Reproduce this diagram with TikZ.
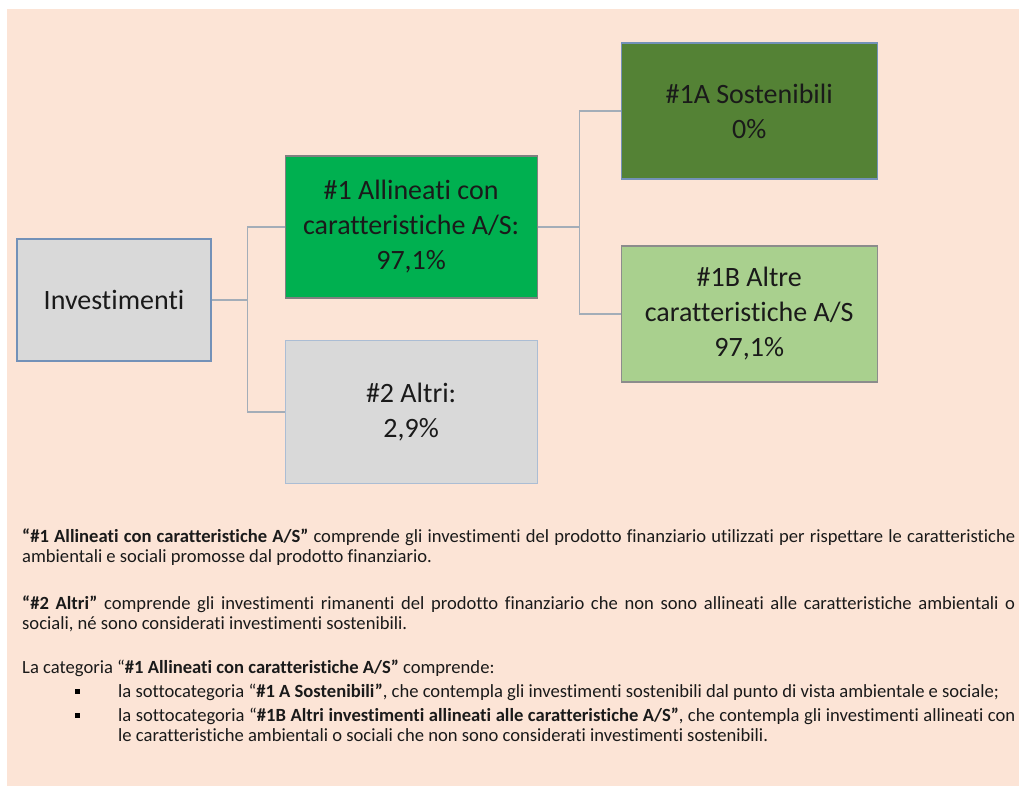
\documentclass[tikz,border=0pt]{standalone}
\usepackage{fontspec}
\setmainfont{Carlito}[Ligatures=NoCommon]
\usepackage{xcolor}
\usetikzlibrary{positioning}
\definecolor{bgpink}{HTML}{FCE4D6}
\definecolor{boxgrey}{HTML}{D9D9D9}
\definecolor{midgreen}{HTML}{00B050}
\definecolor{darkgreen}{HTML}{548235}
\definecolor{lightgreen}{HTML}{A9D08E}
\definecolor{edgeblue}{HTML}{7391B8}
\definecolor{linkgrey}{HTML}{A3ADB8}
\definecolor{textdark}{HTML}{1A1A1A}
\tikzset{
x=1pt, y=-1pt, % pixel units, y grows downwards
catbox/.style={draw=edgeblue, line width=1.1pt, inner sep=0pt, align=center,
  font=\fontsize{28}{35}\selectfont, text=textdark},
link/.style={draw=linkgrey, line width=1.3pt},
para/.style={anchor=base west, inner sep=0pt, align=justify,
  font=\fontsize{18.6}{20}\selectfont, text=textdark},
bullet/.style={fill=black, minimum size=5pt, inner sep=0pt},
}

\begin{document}
\begin{tikzpicture}
  \useasboundingbox (0,0) rectangle (1019,794);
  \fill[bgpink] (7,9) rectangle (1019,786);

  % tree of categories
  \node[catbox, fill=boxgrey, minimum width=194pt, minimum height=122pt] (inv) at (114,300) {Investimenti};
  \node[catbox, fill=midgreen, draw=gray, minimum width=252pt, minimum height=142pt,
    right=73pt of inv.east, yshift=73pt] (alli) {\#1 Allineati con\\caratteristiche A/S:\\97,1\%};
  \node[catbox, fill=boxgrey, draw=edgeblue!60, minimum width=252pt, minimum height=143pt,
    right=73pt of inv.east, yshift=-112pt] (altri) {\#2 Altri:\\2,9\%};
  \node[catbox, fill=darkgreen, minimum width=256pt, minimum height=136pt,
    right=83pt of alli.east, yshift=116pt] (sost) {\#1A Sostenibili\\0\%};
  \node[catbox, fill=lightgreen, draw=gray!90, minimum width=256pt, minimum height=136pt,
    right=83pt of alli.east, yshift=-87pt] (altre) {\#1B Altre\\caratteristiche A/S\\97,1\%};

  \coordinate[right=36pt of inv.east] (fk1);
  \coordinate[right=42pt of alli.east] (fk2);
  \draw[link] (inv.east) -- (fk1) |- (alli.west);
  \draw[link] (fk1) |- (altri.west);
  \draw[link] (alli.east) -- (fk2) |- (sost.west);
  \draw[link] (fk2) |- (altre.west);

  % notes below
  \node[para, text width=993pt] (p1) at (22,542) {\textbf{“\#1 Allineati con caratteristiche A/S”} comprende gli investimenti del prodotto finanziario utilizzati per rispettare le caratteristiche\linebreak ambientali e sociali promosse dal prodotto finanziario.};
  \node[para, text width=993pt] (p2) at (22,609) {\textbf{“\#2 Altri”} comprende gli investimenti rimanenti del prodotto finanziario che non sono allineati alle caratteristiche ambientali o\linebreak sociali, né sono considerati investimenti sostenibili.};
  \node[para, text width=993pt] (p3) at (22,673) {La categoria “\textbf{\#1 Allineati con caratteristiche A/S”} comprende:};
  \node[para, text width=897pt] (b1) at (118,697) {la sottocategoria “\textbf{\#1 A Sostenibili”}, che contempla gli investimenti sostenibili dal punto di vista ambientale e sociale;};
  \node[para, text width=897pt] (b2) at (118,721) {la sottocategoria “\textbf{\#1B Altri investimenti allineati alle caratteristiche A/S”}, che contempla gli investimenti allineati con\linebreak le caratteristiche ambientali o sociali che non sono considerati investimenti sostenibili.};
  \node[bullet] (m1) at (77,691) {};
  \node[bullet] (m2) at (77,715) {};
\end{tikzpicture}
\end{document}
